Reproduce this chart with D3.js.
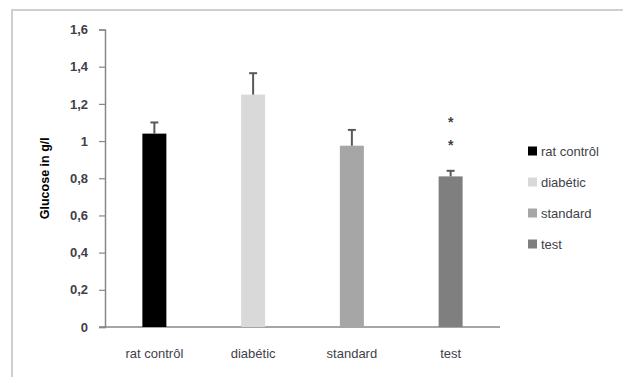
<!DOCTYPE html>
<meta charset="utf-8">
<html lang="en">
<head>
  <title>Glucose in g/l</title>
  <script src="https://d3js.org/d3.v7.min.js"></script>
  <style>
    body { margin: 0; background: #fff; }
    text { font-family: "Liberation Sans", Arial, sans-serif; }
  </style>
</head>
<body>
<div id="chart"></div>
<script>
  // data
  var groups = ["rat contrôl", "diabétic", "standard", "test"];
  var means = [1.04, 1.25, 0.975, 0.81];
  var errors = [0.06, 0.115, 0.085, 0.03];
  var colors = ["#000000", "#d9d9d9", "#a6a6a6", "#7f7f7f"];
  var yTicks = [0, 0.2, 0.4, 0.6, 0.8, 1, 1.2, 1.4, 1.6];
  var stars = ["*", "*"];   // marks above "test"

  var W = 623, H = 377;
  var margin = {top: 29.5, left: 105, right: 123, bottom: 50};
  var width = W - margin.left - margin.right,
      height = H - margin.top - margin.bottom;

  var svg = d3.select("#chart")
    .append("svg")
      .attr("width", W)
      .attr("height", H);

  // outer chart frame (only left and top edges show)
  svg.append("path")
    .attr("d", "M12," + H + "V10H" + W)
    .attr("fill", "none")
    .attr("stroke", "#cfcfcf")
    .attr("stroke-width", 2);

  var g = svg.append("g")
    .attr("transform", "translate(" + margin.left + "," + margin.top + ")");

  var x = d3.scaleBand()
    .domain(groups)
    .range([0, width])
    .padding(0);

  var y = d3.scaleLinear()
    .domain([0, 1.6])
    .range([height, 0]);

  // Y axis
  var yAxis = g.append("g")
    .call(d3.axisLeft(y).tickValues(yTicks).tickSize(6).tickPadding(11)
      .tickFormat(function(d) { return d3.format("~g")(d).replace(".", ","); }));
  yAxis.select(".domain").attr("stroke", "#878787").attr("stroke-width", 1.5);
  yAxis.selectAll(".tick line").attr("stroke", "#878787").attr("stroke-width", 1.2);
  yAxis.selectAll(".tick text")
    .attr("fill", "#3f3f4a")
    .style("font-size", "13px")
    .style("font-weight", "bold");

  // X axis
  var xAxis = g.append("g")
    .attr("transform", "translate(0," + height + ")")
    .call(d3.axisBottom(x).tickSize(0).tickPadding(22));
  xAxis.select(".domain").attr("d", "M-6,0H" + width).attr("stroke", "#878787").attr("stroke-width", 1.5);
  xAxis.selectAll(".tick text")
    .attr("fill", "#3f3f4a")
    .style("font-size", "13px");

  // Y axis label
  g.append("text")
    .attr("transform", "rotate(-90)")
    .attr("x", -height / 2)
    .attr("y", -56)
    .style("text-anchor", "middle")
    .style("font-size", "12.5px")
    .style("font-weight", "bold")
    .attr("fill", "#000")
    .text("Glucose in g/l");

  var barW = 24;

  // bars
  g.selectAll(".bar")
    .data(groups)
    .enter()
    .append("rect")
      .attr("class", "bar")
      .attr("x", function(d) { return x(d) + x.bandwidth() / 2 - barW / 2; })
      .attr("y", function(d, i) { return y(means[i]); })
      .attr("width", barW)
      .attr("height", function(d, i) { return height - y(means[i]); })
      .attr("fill", function(d, i) { return colors[i]; });

  // error bars (upper only)
  var err = g.selectAll(".err")
    .data(groups)
    .enter()
    .append("g")
      .attr("class", "err")
      .attr("stroke", "#595959")
      .attr("stroke-width", 2);
  err.append("line")
    .attr("x1", function(d) { return x(d) + x.bandwidth() / 2; })
    .attr("x2", function(d) { return x(d) + x.bandwidth() / 2; })
    .attr("y1", function(d, i) { return y(means[i]); })
    .attr("y2", function(d, i) { return y(means[i] + errors[i]); });
  err.append("line")
    .attr("x1", function(d) { return x(d) + x.bandwidth() / 2 - 4; })
    .attr("x2", function(d) { return x(d) + x.bandwidth() / 2 + 4; })
    .attr("y1", function(d, i) { return y(means[i] + errors[i]); })
    .attr("y2", function(d, i) { return y(means[i] + errors[i]); });

  // significance stars over "test"
  var last = groups.length - 1;
  g.selectAll(".star")
    .data(stars)
    .enter()
    .append("text")
      .attr("class", "star")
      .attr("x", x(groups[last]) + x.bandwidth() / 2)
      .attr("y", function(d, i) { return y(means[last] + errors[last]) - 21 - i * 23; })
      .style("text-anchor", "middle")
      .style("font-size", "14px")
      .style("font-weight", "bold")
      .attr("fill", "#3f3f4a")
      .text(function(d) { return d; });

  // legend
  var legend = svg.append("g")
    .attr("transform", "translate(528,151)");
  var item = legend.selectAll(".item")
    .data(groups)
    .enter()
    .append("g")
      .attr("class", "item")
      .attr("transform", function(d, i) { return "translate(0," + (i * 31) + ")"; });
  item.append("rect")
    .attr("x", 0)
    .attr("y", -4.5)
    .attr("width", 9)
    .attr("height", 9)
    .attr("fill", function(d, i) { return colors[i]; });
  item.append("text")
    .attr("x", 13)
    .attr("y", 0)
    .attr("dy", "0.35em")
    .style("font-size", "13px")
    .attr("fill", "#3f3f4a")
    .text(function(d) { return d; });
</script>
</body>
</html>
